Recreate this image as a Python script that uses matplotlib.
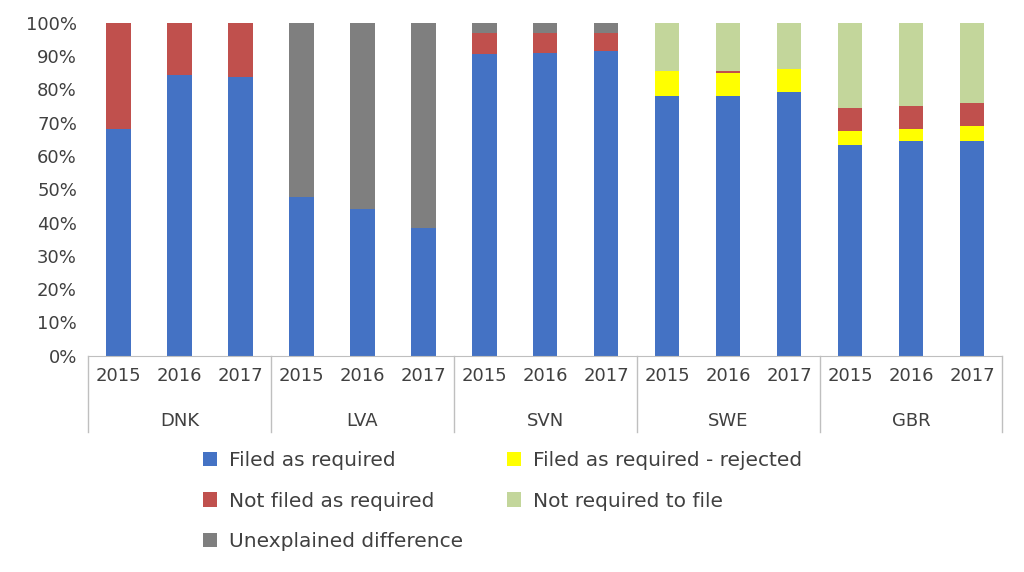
import numpy as np
import matplotlib.pyplot as plt
import matplotlib.transforms as mtransforms

countries = ["DNK", "LVA", "SVN", "SWE", "GBR"]
years = ["2015", "2016", "2017"]

# shares in % per bar (country x year order)
filed = [68.2, 84.3, 83.6, 47.7, 44.1, 38.4, 90.7, 91.0, 91.5, 78.0, 78.0, 79.3, 63.3, 64.5, 64.5]
filed_rejected = [0, 0, 0, 0, 0, 0, 0, 0, 0, 7.5, 7.0, 6.7, 4.2, 3.5, 4.5]
not_filed = [31.8, 15.7, 16.4, 0, 0, 0, 6.3, 6.0, 5.5, 0, 0.5, 0.2, 7.0, 7.0, 7.0]
not_required = [0, 0, 0, 0, 0, 0, 0, 0, 0, 14.5, 14.5, 13.8, 25.5, 25.0, 24.0]
unexplained = [0, 0, 0, 52.3, 55.9, 61.6, 3.0, 3.0, 3.0, 0, 0, 0, 0, 0, 0]

series = [
    ("Filed as required", filed, "#4472C4"),
    ("Filed as required - rejected", filed_rejected, "#FFFF00"),
    ("Not filed as required", not_filed, "#C0504D"),
    ("Not required to file", not_required, "#C3D69B"),
    ("Unexplained difference", unexplained, "#7F7F7F"),
]

plt.rcParams["font.family"] = "DejaVu Sans"
plt.rcParams["font.size"] = 13
fig, ax = plt.subplots(figsize=(10.24, 5.72), dpi=100)
fig.subplots_adjust(left=0.086, right=0.979, top=0.96, bottom=0.378)

x = np.arange(len(filed))
bottom = np.zeros(len(filed))
handles = {}
for name, vals, color in series:
    vals = np.array(vals)
    handles[name] = ax.bar(x, vals, 0.4, bottom=bottom, color=color, label=name)
    bottom += vals

ax.set_xlim(-0.5, len(filed) - 0.5)
ax.set_ylim(0, 100)
ax.set_yticks(np.arange(0, 101, 10))
ax.set_yticklabels([f"{v}%" for v in range(0, 101, 10)], color="#404040")
ax.set_xticks(x)
ax.set_xticklabels(years * len(countries), color="#404040")
ax.tick_params(axis="both", length=0, pad=8)
for s in ["top", "right", "left"]:
    ax.spines[s].set_visible(False)
ax.spines["bottom"].set_color("#BFBFBF")

trans = mtransforms.blended_transform_factory(ax.transData, ax.transAxes)
for i in range(len(countries) + 1):
    xb = i * 3 - 0.5
    ax.plot([xb, xb], [0, -0.23], transform=trans, color="#BFBFBF", lw=1, clip_on=False)
for i, c in enumerate(countries):
    ax.text(i * 3 + 1, -0.195, c, transform=trans, ha="center", va="center", color="#404040")

order = ["Filed as required", "Not filed as required", "Unexplained difference",
         "Filed as required - rejected", "Not required to file"]
fig.legend([handles[n] for n in order], order, ncol=2, loc="upper left",
           bbox_to_anchor=(0.19, 0.225), frameon=False, fontsize=14.5, handlelength=0.7,
           handleheight=0.7, handletextpad=0.6, columnspacing=2.2, labelspacing=1.05,
           labelcolor="#404040", borderaxespad=0)

fig.savefig("out.png", dpi=100)
